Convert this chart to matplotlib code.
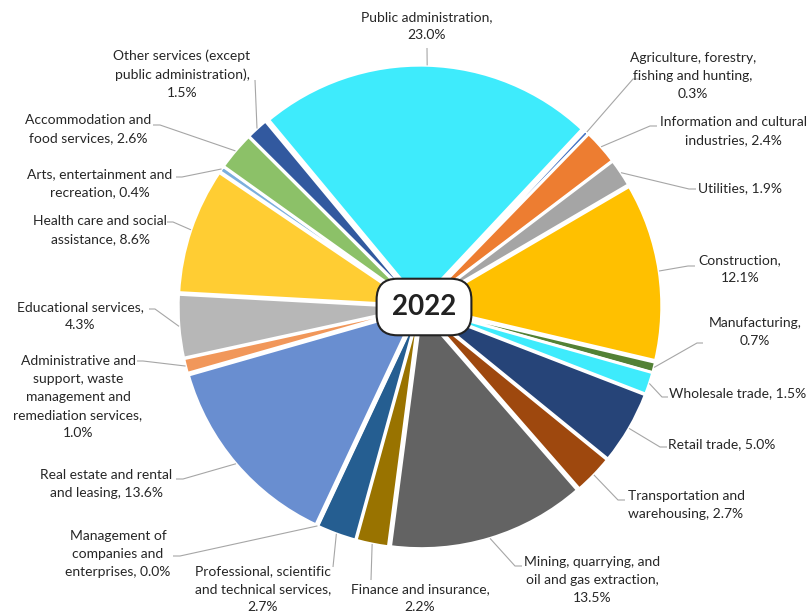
import numpy as np
import matplotlib
matplotlib.use('Agg')
import matplotlib.pyplot as plt

# ---------------------------------------------------------------
#   data
# ---------------------------------------------------------------

industries = ['Public administration', 'Agriculture, forestry,\nfishing and hunting',
              'Information and cultural\nindustries', 'Utilities', 'Construction',
              'Manufacturing', 'Wholesale trade', 'Retail trade',
              'Transportation and\nwarehousing', 'Mining, quarrying, and\noil and gas extraction',
              'Finance and insurance', 'Professional, scientific\nand technical services',
              'Management of\ncompanies and\nenterprises', 'Real estate and rental\nand leasing',
              'Administrative and\nsupport, waste\nmanagement and\nremediation services',
              'Educational services', 'Health care and social\nassistance',
              'Arts, entertainment and\nrecreation', 'Accommodation and\nfood services',
              'Other services (except\npublic administration)']
shares = [23.0, 0.3, 2.4, 1.9, 12.1, 0.7, 1.5, 5.0, 2.7, 13.5,
          2.2, 2.7, 0.0, 13.6, 1.0, 4.3, 8.6, 0.4, 2.6, 1.5]
year = '2022'

# how the percentage joins the name in each label
joins = [',\n', ',\n', ', ', ', ', ',\n', ',\n', ', ', ', ', ', ', ',\n',
         ',\n', ',\n', ', ', ', ', ',\n', ',\n', ', ', ', ', ', ', ',\n']

colors = ['#3EEBFC', '#4472C4', '#ED7D31', '#A5A5A5', '#FFC000', '#538135', '#3EEBFC',
          '#264478', '#9E480E', '#636363', '#997300', '#255E91', '#43682B', '#698ED0',
          '#F1975A', '#B7B7B7', '#FFCD33', '#7CAFDD', '#8CC168', '#32599F']

# ---------------------------------------------------------------
#   label layout (pixel positions: text centre, leader elbow, end)
# ---------------------------------------------------------------

label_xy = [(427, 26), (693, 76), (733, 131), (740, 188), (740, 269), (755, 332),
            (738, 393), (722, 444), (686, 505), (592, 580), (420, 598), (263, 589),
            (118, 554), (106, 484), (78, 397), (80, 316), (100, 230), (100, 183),
            (88, 129), (182, 74)]
elbow_xy = [(427, 48), (633, 79), (650, 126), (689, 189), (688, 266), (697, 343),
            (662, 397), (660, 447), (618, 500), (515, 566), (371, 580), (333, 567),
            (180, 556), (183, 479), (143, 361), (155, 309), (173, 222), (182, 177),
            (160, 125), (255, 80)]
tail = [0, 7, 7, 7, 7, 6, 6, 7, 7, 7, 0, 0, -7, -7, -6, -6, -6, -6, -7, 0]

W, H = 809, 613
CX, CY = 420, 307
U = 237.0


def px(x, y):
    return (x - CX) / U, (CY - y) / U


plt.rcParams['font.family'] = ['Lato', 'DejaVu Sans']

fig = plt.figure(figsize=(W / 100, H / 100), dpi=100)
ax = fig.add_axes([0, 0, 1, 1])

wedges, _ = ax.pie(shares, colors=colors, startangle=129.7, counterclock=False,
                   explode=[0.02] * len(shares), radius=1.0,
                   wedgeprops=dict(edgecolor='white', linewidth=2))

ax.set_xlim(-CX / U, (W - CX) / U)
ax.set_ylim(-(H - CY) / U, CY / U)
ax.axis('off')

for i, w in enumerate(wedges):
    mid = np.deg2rad((w.theta1 + w.theta2) / 2)
    ax0 = w.center[0] + w.r * np.cos(mid)
    ay0 = w.center[1] + w.r * np.sin(mid)
    ex, ey = px(*elbow_xy[i])
    xs = [ax0, ex]
    ys = [ay0, ey]
    if tail[i] != 0:
        xs.append(ex + tail[i] / U)
        ys.append(ey)
    ax.plot(xs, ys, color='#A6A6A6', lw=0.8, solid_capstyle='butt')

    tx, ty = px(*label_xy[i])
    ax.text(tx, ty, '%s%s%.1f%%' % (industries[i], joins[i], shares[i]),
            ha='center', va='center', ma='center', fontsize=10,
            color='#262626', linespacing=1.62)

bx, by = px(424, 307)
ax.text(bx, by, year, ha='center', va='center', fontsize=20, fontweight='bold',
        color='#222222',
        bbox=dict(boxstyle='round,pad=0.55,rounding_size=0.75', facecolor='white',
                  edgecolor='#222222', linewidth=1.5))

fig.savefig('out.png', dpi=100)
